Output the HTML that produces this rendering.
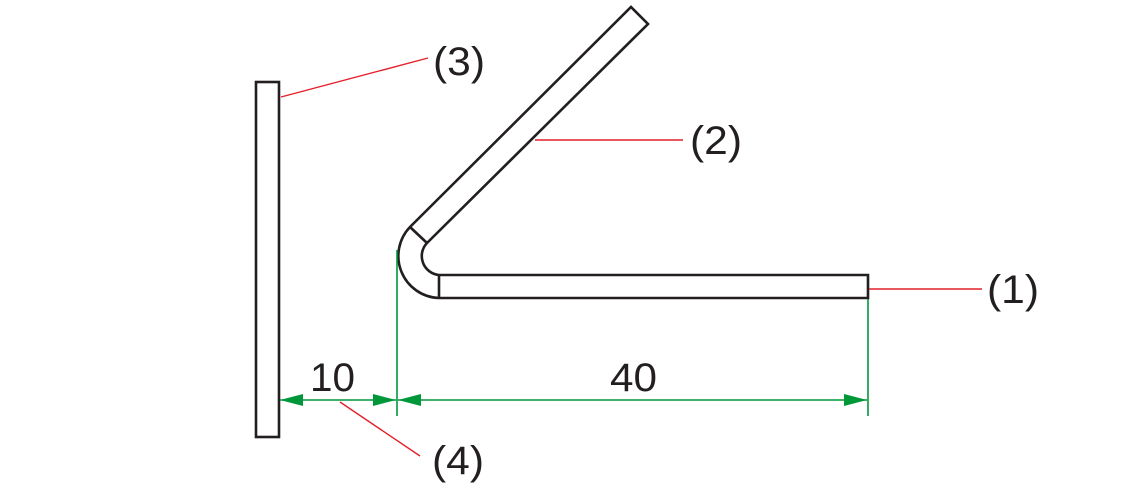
<!DOCTYPE html>
<html><head><style>html,body{margin:0;padding:0;background:#fff;}svg{display:block}</style></head>
<body>
<svg width="1136" height="485" viewBox="0 0 1136 485" xmlns="http://www.w3.org/2000/svg">
<g fill="none" stroke="#231f20" stroke-width="2.6" stroke-linejoin="miter">
<rect x="256" y="82" width="23" height="355" fill="#fff"/>
<path d="M439,275 L868,275 L868,298 L439,298 A42,42 0 0 1 410,227 L631,7 L648,24 L427,243 A19,19 0 0 0 439,275 Z"/>
<line x1="439" y1="275" x2="439" y2="298"/>
<line x1="410" y1="227" x2="427" y2="243"/>
</g>
<g stroke="#00973a" stroke-width="1.6" fill="#00973a">
<line x1="397" y1="250" x2="397" y2="416"/>
<line x1="868" y1="299" x2="868" y2="416"/>
<line x1="280" y1="400" x2="396" y2="400"/>
<line x1="398" y1="400" x2="867" y2="400"/>
<polygon stroke="none" points="280,400 303,394 303,406"/>
<polygon stroke="none" points="396,400 373,394 373,406"/>
<polygon stroke="none" points="398,400 421,394 421,406"/>
<polygon stroke="none" points="867,400 844,394 844,406"/>
</g>
<g stroke="#e4202a" stroke-width="1.4">
<line x1="869" y1="289" x2="982" y2="289"/>
<line x1="535" y1="140" x2="683" y2="140"/>
<line x1="281" y1="97" x2="428" y2="58"/>
<line x1="340" y1="402" x2="420" y2="456"/>
</g>
<g font-family="Liberation Sans, Arial, sans-serif" font-size="40" fill="#231f20" transform="scale(1,1)">
<text x="987" y="303" textLength="52" lengthAdjust="spacingAndGlyphs">(1)</text>
<text x="690" y="154" textLength="52" lengthAdjust="spacingAndGlyphs">(2)</text>
<text x="433" y="75" textLength="52" lengthAdjust="spacingAndGlyphs">(3)</text>
<text x="432" y="474" textLength="52" lengthAdjust="spacingAndGlyphs">(4)</text>
<text x="310" y="391" textLength="45" lengthAdjust="spacingAndGlyphs">10</text>
<text x="610" y="391" textLength="47" lengthAdjust="spacingAndGlyphs">40</text>
</g>
</svg>
</body></html>
